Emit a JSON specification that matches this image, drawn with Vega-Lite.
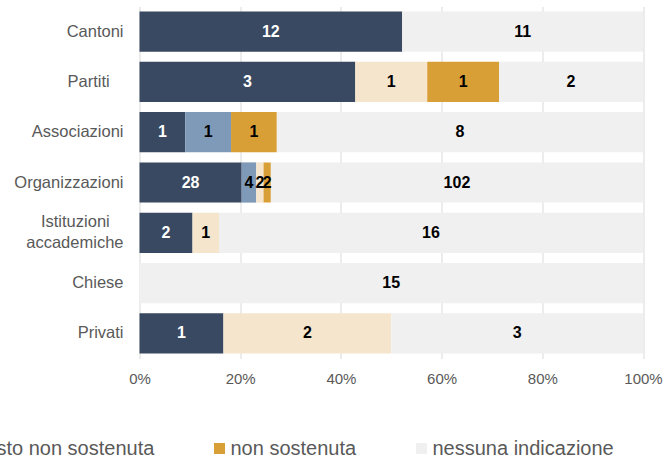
{
  "$schema": "https://vega.github.io/schema/vega-lite/v6.json",
  "width": 503.5,
  "height": 352,
  "autosize": {"type": "none"},
  "padding": {"left": 139.5, "top": 6.5, "right": 21, "bottom": 98.5},
  "background": "white",
  "config": {"font": "Liberation Sans", "view": {"stroke": null}},
  "data": {
    "values": [
      {"cat": "Cantoni", "resp": "sostenuta", "ord": 1, "n": 12},
      {"cat": "Cantoni", "resp": "nessuna indicazione", "ord": 5, "n": 11},
      {"cat": "Partiti", "resp": "sostenuta", "ord": 1, "n": 3},
      {"cat": "Partiti", "resp": "piuttosto non sostenuta", "ord": 3, "n": 1},
      {"cat": "Partiti", "resp": "non sostenuta", "ord": 4, "n": 1},
      {"cat": "Partiti", "resp": "nessuna indicazione", "ord": 5, "n": 2},
      {"cat": "Associazioni", "resp": "sostenuta", "ord": 1, "n": 1},
      {"cat": "Associazioni", "resp": "piuttosto sostenuta", "ord": 2, "n": 1},
      {"cat": "Associazioni", "resp": "non sostenuta", "ord": 4, "n": 1},
      {"cat": "Associazioni", "resp": "nessuna indicazione", "ord": 5, "n": 8},
      {"cat": "Organizzazioni", "resp": "sostenuta", "ord": 1, "n": 28},
      {"cat": "Organizzazioni", "resp": "piuttosto sostenuta", "ord": 2, "n": 4},
      {"cat": "Organizzazioni", "resp": "piuttosto non sostenuta", "ord": 3, "n": 2},
      {"cat": "Organizzazioni", "resp": "non sostenuta", "ord": 4, "n": 2},
      {"cat": "Organizzazioni", "resp": "nessuna indicazione", "ord": 5, "n": 102},
      {"cat": "Istituzioni accademiche", "resp": "sostenuta", "ord": 1, "n": 2},
      {"cat": "Istituzioni accademiche", "resp": "piuttosto non sostenuta", "ord": 3, "n": 1},
      {"cat": "Istituzioni accademiche", "resp": "nessuna indicazione", "ord": 5, "n": 16},
      {"cat": "Chiese", "resp": "nessuna indicazione", "ord": 5, "n": 15},
      {"cat": "Privati", "resp": "sostenuta", "ord": 1, "n": 1},
      {"cat": "Privati", "resp": "piuttosto non sostenuta", "ord": 3, "n": 2},
      {"cat": "Privati", "resp": "nessuna indicazione", "ord": 5, "n": 3}
    ]
  },
  "encoding": {
    "y": {
      "field": "cat",
      "type": "nominal",
      "sort": ["Cantoni", "Partiti", "Associazioni", "Organizzazioni", "Istituzioni accademiche", "Chiese", "Privati"],
      "scale": {"paddingInner": 0.2, "paddingOuter": 0.1},
      "axis": {
        "title": null,
        "domain": false,
        "ticks": false,
        "labelFontSize": 16.5,
        "labelColor": "#595959",
        "labelPadding": 16.5,
        "labelOffset": {"condition": {"test": "datum.value == 'Istituzioni accademiche'", "value": -11}, "value": 0},
        "labelLineHeight": 21,
        "labelLimit": 200,
        "labelExpr": "datum.value == 'Istituzioni accademiche' ? ['Istituzioni\u00a0\u00a0\u00a0\u200b', 'accademiche'] : datum.value == 'Partiti' ? 'Partiti\u00a0\u00a0\u00a0\u200b' : datum.value"
      }
    },
    "x": {
      "field": "n",
      "type": "quantitative",
      "stack": "normalize",
      "scale": {"domain": [0, 1], "nice": false},
      "axis": {
        "title": null,
        "format": ".0%",
        "values": [0, 0.2, 0.4, 0.6, 0.8, 1],
        "domain": false,
        "ticks": false,
        "grid": true,
        "gridColor": "#D9D9D9",
        "gridWidth": 1,
        "labelFlush": false,
        "labelFontSize": 15,
        "labelColor": "#595959",
        "labelPadding": 13
      }
    },
    "order": {"field": "ord", "type": "quantitative"}
  },
  "layer": [
    {
      "mark": {"type": "bar"},
      "encoding": {
        "color": {
          "field": "resp",
          "type": "nominal",
          "scale": {
            "domain": ["sostenuta", "piuttosto sostenuta", "piuttosto non sostenuta", "non sostenuta", "nessuna indicazione"],
            "range": ["#394961", "#7F9AB9", "#F4E5CC", "#D99F37", "#F0F0F0"]
          },
          "legend": {
            "title": null,
            "orient": "none",
            "direction": "horizontal",
            "columns": 5,
            "legendX": -620,
            "legendY": 432,
            "padding": 0,
            "symbolType": "square",
            "symbolSize": 121,
            "symbolStrokeWidth": 0,
            "labelFontSize": 20,
            "labelColor": "#595959",
            "labelOffset": 1,
            "labelLimit": 400,
            "columnPadding": 55
          }
        }
      }
    },
    {
      "mark": {"type": "text", "fontWeight": "bold", "fontSize": 16, "baseline": "middle", "align": "center"},
      "encoding": {
        "x": {"field": "n", "type": "quantitative", "stack": "normalize", "bandPosition": 0.5},
        "detail": {"field": "resp", "type": "nominal"},
        "text": {"field": "n", "type": "quantitative"},
        "color": {"condition": {"test": "datum.resp === 'sostenuta'", "value": "white"}, "value": "black"}
      }
    }
  ]
}
